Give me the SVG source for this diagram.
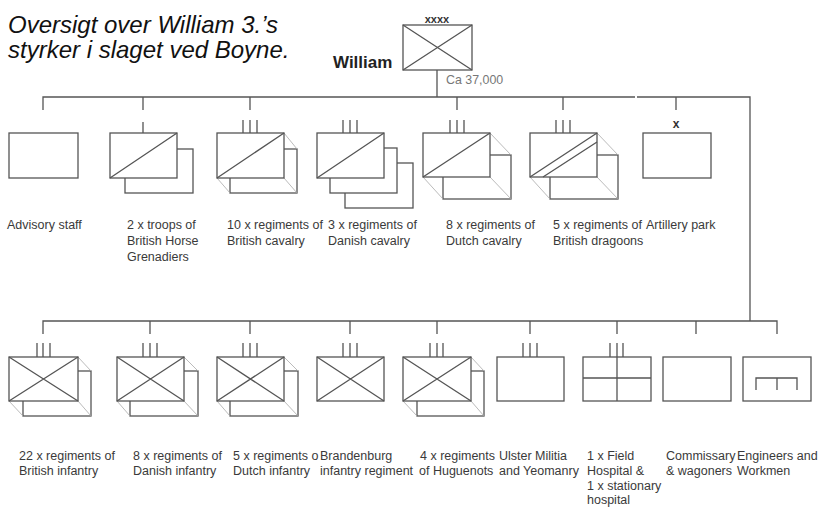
<svg xmlns="http://www.w3.org/2000/svg" width="827" height="507" viewBox="0 0 827 507">
<style>
.ln{stroke:#555;stroke-width:1.3;fill:none}
.bx{stroke:#555;stroke-width:1.3;fill:#fff}
.th{stroke:#aaa;stroke-width:0.8;fill:none}
.lb{font-family:"Liberation Sans",Arial,sans-serif;font-size:12.5px;fill:#3a3a3a}
.ti{font-family:"Liberation Sans",Arial,sans-serif;font-size:24px;font-style:italic;fill:#111}
</style>
<rect width="827" height="507" fill="#fff"/>
<text class="ti" x="8" y="33">Oversigt over William 3.’s</text>
<text class="ti" x="8" y="58">styrker i slaget ved Boyne.</text>

<g id="connectors">
<path class="ln" d="M437,70V97 M43,110V97H635 M637,97H750V321 M143,97V110 M250,97V110 M457,97V110 M563,97V110 M676,97V110"/>
<path class="ln" d="M43,334V321H777V334 M150,321V334 M250,321V334 M350,321V334 M437,321V334 M530,321V334 M617,321V334 M696,321V334"/>
</g>

<g id="william">
<text x="437" y="23" text-anchor="middle" style="font-family:'Liberation Sans',Arial,sans-serif;font-size:11px;font-weight:bold;fill:#333">xxxx</text>
<rect class="bx" x="403" y="25" width="69" height="45"/>
<path class="ln" d="M403,25L472,70M472,25L403,70"/>
<text x="333" y="68" style="font-family:'Liberation Sans',Arial,sans-serif;font-size:17px;font-weight:bold;fill:#222">William</text>
<text x="446" y="84" style="font-family:'Liberation Sans',Arial,sans-serif;font-size:12.4px;fill:#777">Ca 37,000</text>
</g>

<g id="advisory">
<rect class="bx" x="9" y="133" width="69" height="45"/>
<text class="lb" x="7" y="228.5">Advisory staff</text>
</g>

<g id="horse-grenadiers">
<rect class="bx" x="125" y="149" width="68" height="44"/>
<rect class="bx" x="110" y="133" width="67" height="45"/>
<path class="ln" d="M110,178L177,133 M143,122V133"/>
<text class="lb" x="127" y="228.5">2 x troops of</text>
<text class="lb" x="127" y="244.5">British Horse</text>
<text class="lb" x="127" y="260.5">Grenadiers</text>
</g>

<g id="british-cavalry">
<rect class="bx" x="230" y="149" width="67" height="44"/>
<path class="th" d="M284,133L297,149 M217,178L230,193 M284,178L297,193"/>
<rect class="bx" x="217" y="133" width="67" height="45"/>
<path class="ln" d="M217,178L284,133 M243,120V133 M250,120V133 M257,120V133"/>
<text class="lb" x="227" y="228.5">10 x regiments of</text>
<text class="lb" x="227" y="244.5">British cavalry</text>
</g>

<g id="danish-cavalry">
<rect class="bx" x="345" y="163" width="68" height="45"/>
<rect class="bx" x="330" y="148" width="67" height="45"/>
<rect class="bx" x="317" y="133" width="67" height="45"/>
<path class="ln" d="M317,178L384,133 M343,120V133 M350,120V133 M357,120V133"/>
<text class="lb" x="328" y="228.5">3 x regiments of</text>
<text class="lb" x="328" y="244.5">Danish cavalry</text>
</g>

<g id="dutch-cavalry">
<rect class="bx" x="443" y="155" width="68" height="44"/>
<path class="th" d="M490,133L511,155 M423,177L443,199 M490,177L511,199"/>
<rect class="bx" x="423" y="133" width="67" height="44"/>
<path class="ln" d="M423,177L490,133 M450,120V133 M457,120V133 M464,120V133"/>
<text class="lb" x="446" y="228.5">8 x regiments of</text>
<text class="lb" x="446" y="244.5">Dutch cavalry</text>
</g>

<g id="british-dragoons">
<rect class="bx" x="550" y="155" width="68" height="44"/>
<path class="th" d="M597,133L618,155 M530,177L550,199 M597,177L618,199"/>
<rect class="bx" x="530" y="133" width="67" height="44"/>
<path class="ln" d="M530,177L597,133 M543,177L597,142 M556,120V133 M563,120V133 M570,120V133"/>
<text class="lb" x="553" y="228.5">5 x regiments of</text>
<text class="lb" x="553" y="244.5">British dragoons</text>
</g>

<g id="artillery">
<text x="676" y="128" text-anchor="middle" style="font-family:'Liberation Sans',Arial,sans-serif;font-size:12px;font-weight:bold;fill:#333">x</text>
<rect class="bx" x="643" y="133" width="68" height="45"/>
<text class="lb" x="646" y="228.5">Artillery park</text>
</g>

<g id="british-infantry">
<rect class="bx" x="23" y="371" width="68" height="45"/>
<path class="th" d="M78,357L91,371 M9,401L23,416 M78,401L91,416"/>
<rect class="bx" x="9" y="357" width="69" height="44"/>
<path class="ln" d="M9,357L78,401M78,357L9,401 M37,343V357 M43,343V357 M50,343V357"/>
<text class="lb" x="19" y="459.5">22 x regiments of</text>
<text class="lb" x="19" y="475">British infantry</text>
</g>

<g id="danish-infantry">
<rect class="bx" x="130" y="371" width="68" height="45"/>
<path class="th" d="M184,357L198,371 M117,401L130,416 M184,401L198,416"/>
<rect class="bx" x="117" y="357" width="67" height="44"/>
<path class="ln" d="M117,357L184,401M184,357L117,401 M143,343V357 M150,343V357 M157,343V357"/>
<text class="lb" x="133" y="459.5">8 x regiments of</text>
<text class="lb" x="133" y="475">Danish infantry</text>
</g>

<g id="dutch-infantry">
<rect class="bx" x="230" y="371" width="68" height="45"/>
<path class="th" d="M284,357L298,371 M217,401L230,416 M284,401L298,416"/>
<rect class="bx" x="217" y="357" width="67" height="44"/>
<path class="ln" d="M217,357L284,401M284,357L217,401 M243,343V357 M250,343V357 M257,343V357"/>
<text class="lb" x="233" y="459.5">5 x regiments o</text>
<text class="lb" x="233" y="475">Dutch infantry</text>
</g>

<g id="brandenburg">
<rect class="bx" x="317" y="357" width="67" height="44"/>
<path class="ln" d="M317,357L384,401M384,357L317,401 M343,343V357 M350,343V357 M357,343V357"/>
<text class="lb" x="320" y="459.5">Brandenburg</text>
<text class="lb" x="320" y="475">infantry regiment</text>
</g>

<g id="huguenots">
<rect class="bx" x="417" y="371" width="67" height="45"/>
<path class="th" d="M471,357L484,371 M403,401L417,416 M471,401L484,416"/>
<rect class="bx" x="403" y="357" width="68" height="44"/>
<path class="ln" d="M403,357L471,401M471,357L403,401 M430,343V357 M437,343V357 M443,343V357"/>
<text class="lb" x="420" y="459.5">4 x regiments</text>
<text class="lb" x="419" y="475">of Huguenots</text>
</g>

<g id="ulster">
<rect class="bx" x="497" y="357" width="67" height="44"/>
<path class="ln" d="M523,343V357 M530,343V357 M537,343V357"/>
<text class="lb" x="499" y="459.5">Ulster Militia</text>
<text class="lb" x="499" y="475">and Yeomanry</text>
</g>

<g id="hospital">
<rect class="bx" x="583" y="357" width="68" height="44"/>
<path class="ln" d="M617,357V401 M583,378H651 M610,343V357 M617,343V357 M623,343V357"/>
<text class="lb" x="587" y="459.5">1 x Field</text>
<text class="lb" x="587" y="475">Hospital &amp;</text>
<text class="lb" x="587" y="490">1 x stationary</text>
<text class="lb" x="587" y="503.5">hospital</text>
</g>

<g id="commissary">
<rect class="bx" x="663" y="357" width="68" height="44"/>
<text class="lb" x="666" y="459.5">Commissary</text>
<text class="lb" x="666" y="475">&amp; wagoners</text>
</g>

<g id="engineers">
<rect class="bx" x="743" y="357" width="68" height="44"/>
<path class="ln" d="M756,390V378H797V390 M777,378V390"/>
<text class="lb" x="737" y="459.5">Engineers and</text>
<text class="lb" x="737" y="475">Workmen</text>
</g>
</svg>
